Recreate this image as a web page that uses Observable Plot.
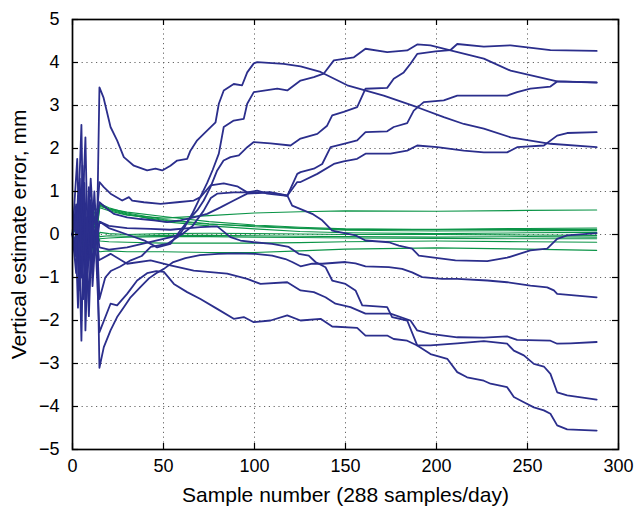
<!DOCTYPE html>
<html><head><meta charset="utf-8">
<script src="https://cdn.jsdelivr.net/npm/d3@7"></script>
<script src="https://cdn.jsdelivr.net/npm/@observablehq/plot@0.6"></script>
<style>body{margin:0;background:#fff}svg{display:block}</style>
</head><body><div id="chart"></div>
<script>
// ---- tick labels ----
const xTicks = [0, 50, 100, 150, 200, 250, 300];
const yTicks = [-5, -4, -3, -2, -1, 0, 1, 2, 3, 4, 5];
const xLabel = "Sample number (288 samples/day)";
const yLabel = "Vertical estimate error, mm";

// ---- blue series: [sample, error mm] ----
const blue1 = [[0,0],[2,0.4],[4,-1.2],[5,1.0],[7,-0.8],[9,0.6],[11,-0.3],[13.5,0.1],[14.8,3.42],[17,3.19],[20.9,2.5],[24.5,2.19],[28.2,1.8],[33.7,1.6],[41,1.49],[45.6,1.53],[49.3,1.49],[53.8,1.6],[57.5,1.72],[63,1.76],[64.8,1.95],[68.5,2.19],[73.1,2.38],[78.6,2.61],[80.4,3.04],[83.1,3.35],[88.6,3.5],[93.2,3.47],[96,3.77],[99.6,3.98],[101.5,4.01],[116,3.97],[125.3,3.91],[136.3,3.78],[151,3.47],[171,3.23],[189.4,2.96],[204,2.73],[215,2.57],[226,2.46],[240.7,2.26],[262.6,2.11],[288,2.03]];
const blue2 = [[0,0],[2.6,1.76],[4,-0.6],[6,0.9],[8,-1.2],[10,0.5],[12,-0.5],[13.8,0.1],[14.8,0.3],[20,0.15],[30,0.0],[40,-0.15],[46.5,-0.3],[53.8,-0.22],[59.3,0.1],[64,0.35],[68.5,0.56],[72.1,0.79],[75.8,1.1],[79.5,1.49],[83,1.72],[86.8,1.8],[91.4,1.84],[96,2.03],[99.6,2.15],[108.8,2.12],[119.8,2.07],[125.3,2.23],[134.5,2.34],[139.9,2.53],[142.7,2.77],[149,2.85],[156.4,2.96],[161,3.39],[172.9,3.41],[176.5,3.62],[182,3.77],[185.7,3.97],[189.4,4.2],[199.5,4.26],[207.7,4.29],[211.4,4.43],[226,4.37],[240.7,4.4],[262.6,4.29],[288,4.27]];
const blue3 = [[0,0],[2,-0.9],[4.9,2.55],[6,-0.3],[7.5,-1.6],[9,0.9],[11,-0.9],[13,0.4],[14.8,-1.5],[18,-1.0],[21,-0.85],[26,-0.75],[32,-0.6],[38,-0.5],[43,-0.29],[52,-0.22],[58,-0.05],[62,0.2],[66,0.5],[70,0.85],[74,1.2],[77,1.5],[80.4,1.88],[83.1,2.5],[88.6,2.65],[94.1,2.69],[96,3.04],[99.6,3.31],[112.5,3.39],[118,3.35],[125.3,3.58],[132.6,3.66],[138,3.74],[143.6,4.05],[154.6,4.12],[161,4.32],[172.9,4.24],[183.9,4.28],[189.4,4.42],[196.7,4.4],[207.7,4.28],[226,4.09],[240.7,3.81],[266.3,3.56],[288,3.53]];
const blue4 = [[0,0],[2,0.7],[3.5,-1.3],[5.5,0.5],[7.1,2.26],[8.5,-0.6],[10,0.8],[12,-0.4],[13.5,0.3],[14.8,0.75],[19,0.6],[22.7,0.48],[30,0.4],[37.4,0.36],[44.7,0.33],[52,0.29],[59.3,0.33],[66.6,0.4],[74,0.48],[81.3,0.63],[88.6,0.79],[96,0.95],[108.8,0.98],[118,0.9],[123.5,1.41],[125.3,1.45],[132.6,1.53],[137.2,1.64],[141.8,2.03],[149,2.11],[156.4,2.19],[161,2.38],[172.9,2.4],[176.5,2.5],[183.9,2.59],[187.5,2.88],[193,3.08],[204,3.12],[211.4,3.23],[226,3.23],[238.8,3.23],[244.3,3.31],[251.6,3.39],[262.6,3.44],[266.3,3.56],[288,3.54]];
const blue5 = [[0,0],[1.5,-0.5],[3,0.9],[4.9,-2.47],[6.5,1.2],[8,-0.5],[10,1.3],[12,-0.2],[13.5,0.5],[14.8,1.22],[17.2,1.1],[20.9,0.95],[27.3,0.79],[31,0.87],[32.8,0.79],[39.2,0.75],[48.4,0.71],[57.5,0.75],[66.6,0.79],[70.3,0.87],[75.8,1.14],[83.1,1.19],[90.5,1.12],[96,0.98],[101.5,1.02],[107,0.95],[118,0.9],[123.5,1.22],[125.3,1.22],[134.5,1.41],[143.6,1.64],[149,1.7],[156.4,1.76],[161,1.88],[174.7,1.88],[183.9,1.95],[189.4,2.07],[200.4,2.03],[215,1.95],[226,1.91],[238.8,1.91],[244.3,2.03],[259,2.07],[266.3,2.3],[271.8,2.36],[288,2.38]];
const blue6 = [[0,0],[2,0.5],[4,-0.8],[6,1.4],[7.1,-2.23],[9,0.3],[11,-0.7],[13,0.3],[14.8,-0.3],[20,-0.35],[30,-0.3],[40,-0.2],[50,-0.1],[60,0.0],[66,0.2],[72,0.55],[76,0.85],[79.5,0.95],[88.6,0.98],[94.1,0.98],[108.8,0.98],[118,0.91],[120.7,0.67],[131.7,0.48],[137.2,0.33],[142.7,0.09],[155.5,-0.02],[161,-0.14],[173.8,-0.18],[179.3,-0.26],[186.6,-0.33],[190.3,-0.49],[197.6,-0.53],[210.4,-0.6],[227.9,-0.62],[238.8,-0.54],[251.6,-0.37],[260.8,-0.33],[266.3,-0.1],[271.8,-0.02],[288,0.03]];
const blue7 = [[0,0],[2,-0.4],[3.5,1.2],[5,-1.0],[7,0.5],[9,-1.9],[11,0.6],[13.5,0],[14.8,-3.1],[17.2,-2.62],[20.9,-2.23],[24.5,-1.92],[28.2,-1.69],[31.9,-1.46],[37.4,-1.22],[42,-1.02],[46,-0.9],[50.2,-0.8],[55,-0.65],[62,-0.55],[70,-0.48],[80,-0.45],[90,-0.44],[100.5,-0.45],[109.7,-0.49],[117,-0.57],[120.7,-0.64],[125.3,-0.74],[131.7,-0.68],[137.2,-0.68],[150,-0.64],[155.5,-0.67],[161,-0.74],[173.8,-0.76],[181.1,-0.8],[186.6,-0.88],[192.1,-0.99],[203.1,-1.03],[211.4,-1.03],[227.9,-1.07],[238.8,-1.11],[251.6,-1.19],[260.8,-1.23],[264.5,-1.3],[266.3,-1.38],[288,-1.46]];
const blue8 = [[0,0],[1.5,0.3],[3,-1.7],[5,0.7],[7,-1.0],[9,1.1],[11,-1.2],[13,0.2],[14.5,-0.6],[20.9,-0.45],[30,-0.68],[42.9,-0.6],[53.8,-0.72],[66.6,-0.84],[85,-0.91],[96,-1.03],[103.3,-1.15],[118,-1.11],[125.3,-1.3],[132.6,-1.34],[139,-1.46],[144.5,-1.61],[152.7,-1.69],[161,-1.84],[174.7,-1.84],[185.7,-2.0],[189.4,-2.23],[196.7,-2.31],[211.4,-2.39],[226,-2.4],[238.8,-2.37],[244.3,-2.45],[262.6,-2.47],[266.3,-2.54],[273.6,-2.53],[288,-2.5]];
const blue9 = [[0,0],[2,-0.2],[4,1.3],[6,-1.5],[8,0.4],[10,-0.8],[12,1.0],[13.5,-0.2],[14.8,0.3],[20,0.2],[30,0.15],[43,0.13],[53.8,0.11],[70.3,0.17],[79.5,0.19],[86.8,-0.06],[92.3,-0.14],[99.6,-0.18],[109.7,-0.22],[118.8,-0.29],[124.3,-0.45],[129.8,-0.49],[133.5,-0.64],[139,-0.76],[142.7,-1.07],[150,-1.15],[155.5,-1.3],[159.2,-1.65],[172.9,-1.69],[175.6,-1.92],[183.9,-2.0],[189.4,-2.58],[196.7,-2.78],[205.9,-2.89],[211.4,-3.2],[216.8,-3.32],[226,-3.4],[229.7,-3.47],[238.8,-3.55],[242.5,-3.78],[248,-3.9],[253.5,-4.02],[259,-4.09],[262.6,-4.17],[266.3,-4.44],[271.8,-4.53],[288,-4.56]];
const blue10 = [[0,0],[2,0.3],[4,-0.5],[5.5,1.6],[7,-0.4],[9,-1.4],[11,0.3],[13,-0.5],[14.8,-2.27],[20.9,-1.61],[24.5,-1.65],[30,-1.38],[35.5,-1.07],[41,-0.9],[46,-0.85],[50.2,-0.87],[55.7,-1.15],[63,-1.34],[70.3,-1.5],[79.5,-1.73],[88.6,-1.96],[94.1,-1.92],[99.6,-2.04],[108.8,-2.0],[118,-1.88],[125.3,-2.0],[136.3,-1.96],[142.7,-2.14],[156.4,-2.17],[161,-2.35],[172.9,-2.35],[176.5,-2.43],[183.9,-2.47],[189.4,-2.58],[196.7,-2.58],[211.4,-2.53],[226,-2.48],[238.8,-2.54],[242.5,-2.7],[248,-2.81],[253.5,-3.01],[259,-3.07],[262.6,-3.24],[266.3,-3.67],[271.8,-3.74],[288,-3.84]];
const blueSeries = [blue1, blue2, blue3, blue4, blue5, blue6, blue7, blue8, blue9, blue10];

// ---- green series: values at greenX ----
const greenX = [0, 3, 6, 9, 12, 15, 20, 30, 50, 75, 100, 125, 150, 200, 250, 288];
const green1  = [0, 0.3, -0.4, 0.5, -0.2, 0.62, 0.55, 0.45, 0.38, 0.44, 0.5, 0.53, 0.55, 0.54, 0.56, 0.57];
const green2  = [0, -0.3, 0.4, -0.5, 0.3, 0.72, 0.62, 0.5, 0.35, 0.25, 0.18, 0.14, 0.12, 0.12, 0.14, 0.15];
const green3  = [0, 0.5, -0.2, 0.3, -0.6, 0.68, 0.58, 0.46, 0.33, 0.24, 0.2, 0.15, 0.1, 0.08, 0.09, 0.09];
const green4  = [0, -0.5, 0.3, -0.2, 0.5, 0.7, 0.6, 0.48, 0.3, 0.2, 0.13, 0.07, 0.04, 0.02, 0.04, 0.05];
const green5  = [0, 0.2, -0.6, 0.4, -0.3, 0.05, 0.02, 0.0, 0.02, 0.03, 0.02, 0.01, 0.0, 0.0, -0.01, -0.02];
const green6  = [0, -0.2, 0.5, -0.4, 0.2, -0.05, -0.03, -0.04, -0.02, -0.02, -0.03, -0.04, -0.05, -0.06, -0.05, -0.06];
const green7  = [0, 0.4, -0.3, 0.2, -0.5, -0.1, -0.08, -0.06, -0.05, -0.05, -0.06, -0.07, -0.08, -0.09, -0.1, -0.1];
const green8  = [0, -0.4, 0.2, -0.6, 0.3, -0.15, -0.17, -0.18, -0.2, -0.2, -0.2, -0.19, -0.17, -0.15, -0.17, -0.18];
const green9  = [0, 0.3, -0.5, 0.1, -0.3, -0.4, -0.38, -0.4, -0.4, -0.42, -0.42, -0.38, -0.34, -0.31, -0.34, -0.37];
const green10 = [0, -0.3, 0.6, -0.3, 0.4, 0.65, 0.6, 0.52, 0.42, 0.3, 0.22, 0.17, 0.13, 0.11, 0.12, 0.12];
const greenSeries = [green1, green2, green3, green4, green5, green6, green7, green8, green9, green10];

// ---- build tables ----
const blueRows = blueSeries.flatMap((s, i) => s.map(([x, y]) => ({x, y, k: "b" + i})));
const greenRows = greenSeries.flatMap((s, i) => s.map((y, j) => ({x: greenX[j], y, k: "g" + i})));

const W = 634, H = 509, mT = 19, mR = 16, mB = 60, mL = 72;
const innerW = W - mL - mR, innerH = H - mT - mB, tl = 6;
const font = "'Liberation Sans', Arial, Helvetica, sans-serif";
const gridStyle = {stroke: "#555", strokeWidth: 0.9, strokeDasharray: "1.2,3.6"};

const chart = Plot.plot({
  width: W, height: H,
  marginTop: mT, marginRight: mR, marginBottom: mB, marginLeft: mL,
  style: {fontFamily: font, fontSize: "18px", color: "#000", background: "#fff"},
  x: {domain: [0, 300]},
  y: {domain: [-5, 5]},
  marks: [
    Plot.ruleX(xTicks.slice(1, -1), gridStyle),
    Plot.ruleY(yTicks.slice(1, -1), gridStyle),
    Plot.line(greenRows, {x: "x", y: "y", z: "k", stroke: "#0b9447", strokeWidth: 1.1}),
    Plot.line(blueRows, {x: "x", y: "y", z: "k", stroke: "#2b2e8c", strokeWidth: 1.8}),
    // inward ticks on all four sides
    Plot.ruleX(xTicks, {stroke: "#000", strokeWidth: 1.2, insetTop: innerH - tl}),
    Plot.ruleX(xTicks, {stroke: "#000", strokeWidth: 1.2, insetBottom: innerH - tl}),
    Plot.ruleY(yTicks, {stroke: "#000", strokeWidth: 1.2, insetRight: innerW - tl}),
    Plot.ruleY(yTicks, {stroke: "#000", strokeWidth: 1.2, insetLeft: innerW - tl}),
    Plot.frame({stroke: "#000", strokeWidth: 1.7}),
    Plot.axisX(xTicks, {tickSize: 0, tickPadding: 10, label: null, fontSize: 18}),
    Plot.axisY(yTicks, {tickSize: 0, tickPadding: 13, label: null, fontSize: 18}),
    Plot.text([xLabel], {text: d => d, frameAnchor: "bottom", textAnchor: "middle", dy: 52, fontSize: 21, fill: "#000"}),
    Plot.text([yLabel], {text: d => d, frameAnchor: "left", textAnchor: "middle", dx: -53, rotate: -90, fontSize: 21, fill: "#000"})
  ]
});
document.getElementById("chart").appendChild(chart);
</script>
</body></html>
